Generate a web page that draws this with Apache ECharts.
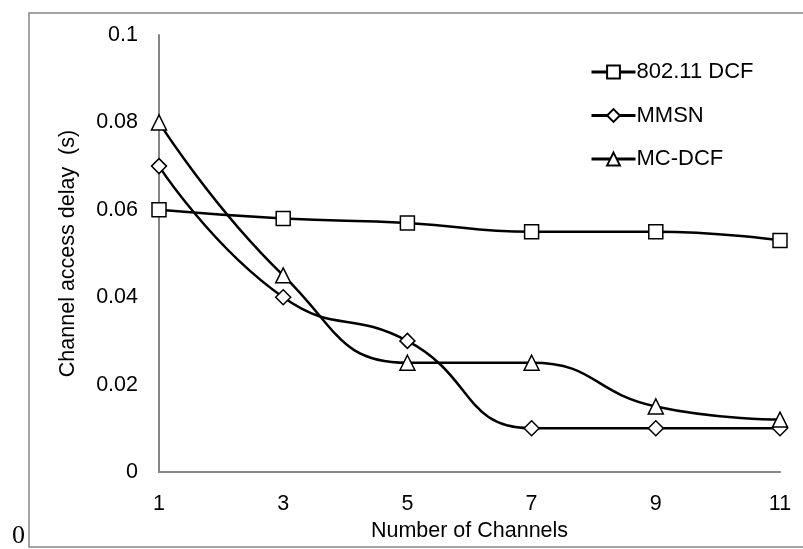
<!DOCTYPE html>
<html>
<head>
<meta charset="utf-8">
<script src="https://cdn.jsdelivr.net/npm/echarts@6/dist/echarts.min.js"></script>
<style>
  html, body { margin: 0; padding: 0; background: #fff; }
  #main { width: 803px; height: 549px; }
</style>
</head>
<body>
<div id="main"></div>
<script>
var channels = ['1', '3', '5', '7', '9', '11'];
var dcf = [0.06, 0.058, 0.057, 0.055, 0.055, 0.053];
var mmsn = [0.07, 0.04, 0.03, 0.01, 0.01, 0.01];
var mcdcf = [0.08, 0.045, 0.025, 0.025, 0.015, 0.012];

var font = 'Liberation Sans, Arial, sans-serif';

function makeSeries(name, data, symbol, size) {
	return {
		name: name,
		type: 'line',
		data: data,
		smooth: 0.5,
		symbol: symbol,
		symbolSize: size,
		lineStyle: { color: '#000', width: 2.5 },
		itemStyle: { color: '#fff', borderColor: '#000', borderWidth: 1.5 }
	};
}

var chart = echarts.init(document.getElementById('main'));
chart.setOption({
	animation: false,
	backgroundColor: '#fff',
	grid: { left: 159, right: 23, top: 35, bottom: 77 },
	legend: {
		orient: 'vertical',
		left: 585,
		top: 56,
		itemWidth: 44,
		itemHeight: 16,
		itemGap: 21.5,
		lineStyle: { width: 3 },
		textStyle: { fontFamily: font, fontSize: 22, color: '#000', padding: [0, 0, 0, -4] },
		data: ['802.11 DCF', 'MMSN', 'MC-DCF']
	},
	xAxis: {
		type: 'category',
		data: channels,
		boundaryGap: false,
		name: 'Number of Channels',
		nameLocation: 'middle',
		nameGap: 47,
		nameTextStyle: { fontFamily: font, fontSize: 21.5, color: '#000' },
		axisLine: { lineStyle: { color: '#868686', width: 2 } },
		axisTick: { show: false },
		axisLabel: { fontFamily: font, fontSize: 21.5, color: '#000', margin: 21 },
		splitLine: { show: false }
	},
	yAxis: {
		type: 'value',
		min: 0,
		max: 0.1,
		interval: 0.02,
		name: 'Channel access delay  (s)',
		nameLocation: 'middle',
		nameGap: 80,
		nameTextStyle: { fontFamily: font, fontSize: 21.5, color: '#000' },
		axisLine: { show: true, lineStyle: { color: '#868686', width: 2 } },
		axisTick: { show: false },
		axisLabel: { fontFamily: font, fontSize: 21.5, color: '#000', margin: 21 },
		splitLine: { show: false }
	},
	graphic: [
		{
			type: 'rect',
			shape: { x: 29, y: 13, width: 800, height: 534 },
			style: { fill: 'none', stroke: '#868686', lineWidth: 1.5 }
		},
		{
			type: 'text',
			left: 12,
			top: 523,
			style: { text: '0', font: '26px "Liberation Serif", "DejaVu Serif", serif', fill: '#000' }
		}
	],
	series: [
		makeSeries('802.11 DCF', dcf, 'rect', 14),
		makeSeries('MMSN', mmsn, 'diamond', 15),
		makeSeries('MC-DCF', mcdcf, 'triangle', 15)
	]
});
</script>
</body>
</html>
